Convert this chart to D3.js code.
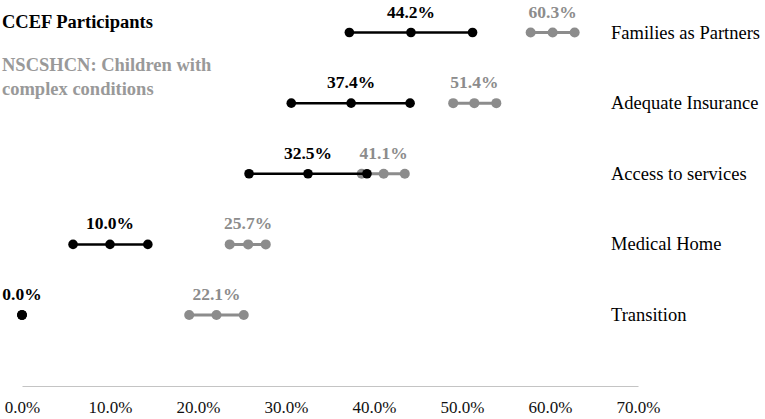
<!DOCTYPE html>
<html>
<head>
<meta charset="utf-8">
<script src="https://cdn.jsdelivr.net/npm/d3@7"></script>
<style>
  body { margin: 0; background: #fff; }
  svg text { font-family: "Liberation Serif", "Times New Roman", serif; }
</style>
</head>
<body>
<div class="dot-plot"></div>
<script>
// categories top to bottom
const categories = ["Families as Partners", "Adequate Insurance", "Access to services", "Medical Home", "Transition"];

// CCEF participants (value + interval ends), percent
const ccefValue = [44.2, 37.4, 32.5, 10.0, 0.0];
const ccefLow   = [37.2, 30.6, 25.8, 5.8, 0.0];
const ccefHigh  = [51.2, 44.1, 39.2, 14.3, 0.0];

// NSCSHCN children with complex conditions
const nsValue = [60.3, 51.4, 41.1, 25.7, 22.1];
const nsLow   = [57.8, 49.0, 38.6, 23.6, 19.0];
const nsHigh  = [62.8, 53.9, 43.5, 27.7, 25.2];

const tickValues = [0, 10, 20, 30, 40, 50, 60, 70];
const legendLines = [["CCEF Participants"], ["NSCSHCN: Children with", "complex conditions"]];

const width = 765;
const height = 419;
const black = "#000";
const gray = "#8c8c8c";

const svg = d3.select('.dot-plot')
  .append('svg')
  .attr('width', width)
  .attr('height', height);

const x = d3.scaleLinear().domain([0, 70]).range([22, 638]);
const y = d3.scalePoint().domain(categories).range([32.5, 315]);

// axis
const axis = svg.append("g")
  .attr("transform", "translate(0,386)")
  .call(d3.axisBottom(x).tickValues(tickValues).tickFormat(d => d.toFixed(1) + "%").tickSize(0).tickPadding(15));
axis.select(".domain").attr("stroke", "#c4c4c4").attr("stroke-width", 1.2);
axis.selectAll("text")
  .attr("font-size", 17)
  .attr("fill", "#111")
  .attr("font-family", "Liberation Serif, serif");

// build series rows
function rows(low, val, high) {
  return categories.map((c, i) => ({cat: c, low: low[i], val: val[i], high: high[i]}));
}
const series = [
  {name: "ns", color: gray, width: 3, r: 5, data: rows(nsLow, nsValue, nsHigh)},
  {name: "ccef", color: black, width: 2.5, r: 4.8, data: rows(ccefLow, ccefValue, ccefHigh)}
];

series.forEach(s => {
  const g = svg.append("g").attr("class", s.name);
  g.selectAll("line")
    .data(s.data)
    .enter()
    .append("line")
    .attr("x1", d => x(d.low))
    .attr("x2", d => x(d.high))
    .attr("y1", d => y(d.cat))
    .attr("y2", d => y(d.cat))
    .attr("stroke", s.color)
    .attr("stroke-width", s.width);

  const pts = [];
  s.data.forEach(d => { pts.push({cat: d.cat, v: d.low}, {cat: d.cat, v: d.val}, {cat: d.cat, v: d.high}); });
  g.selectAll("circle")
    .data(pts)
    .enter()
    .append("circle")
    .attr("cx", d => x(d.v))
    .attr("cy", d => y(d.cat))
    .attr("r", s.r)
    .attr("fill", s.color);

  g.selectAll("text")
    .data(s.data)
    .enter()
    .append("text")
    .text(d => d.val.toFixed(1) + "%")
    .attr("x", d => x(d.val))
    .attr("y", d => y(d.cat) - 15)
    .attr("text-anchor", "middle")
    .attr("font-size", 17.5)
    .attr("font-weight", "bold")
    .attr("fill", s.color);
});

// category labels
svg.selectAll("text.cat")
  .data(categories)
  .enter()
  .append("text")
  .attr("class", "cat")
  .text(d => d)
  .attr("x", 611)
  .attr("y", d => y(d) + 6)
  .attr("font-size", 18.5)
  .attr("fill", "#000");

// legend
const legendColors = [black, "#999"];
const legendY = [28, 71];
legendLines.forEach((lines, i) => {
  lines.forEach((t, j) => {
    svg.append("text")
      .text(t)
      .attr("x", 2)
      .attr("y", legendY[i] + j * 23.5)
      .attr("font-size", 18.5)
      .attr("font-weight", "bold")
      .attr("fill", legendColors[i]);
  });
});
</script>
</body>
</html>
